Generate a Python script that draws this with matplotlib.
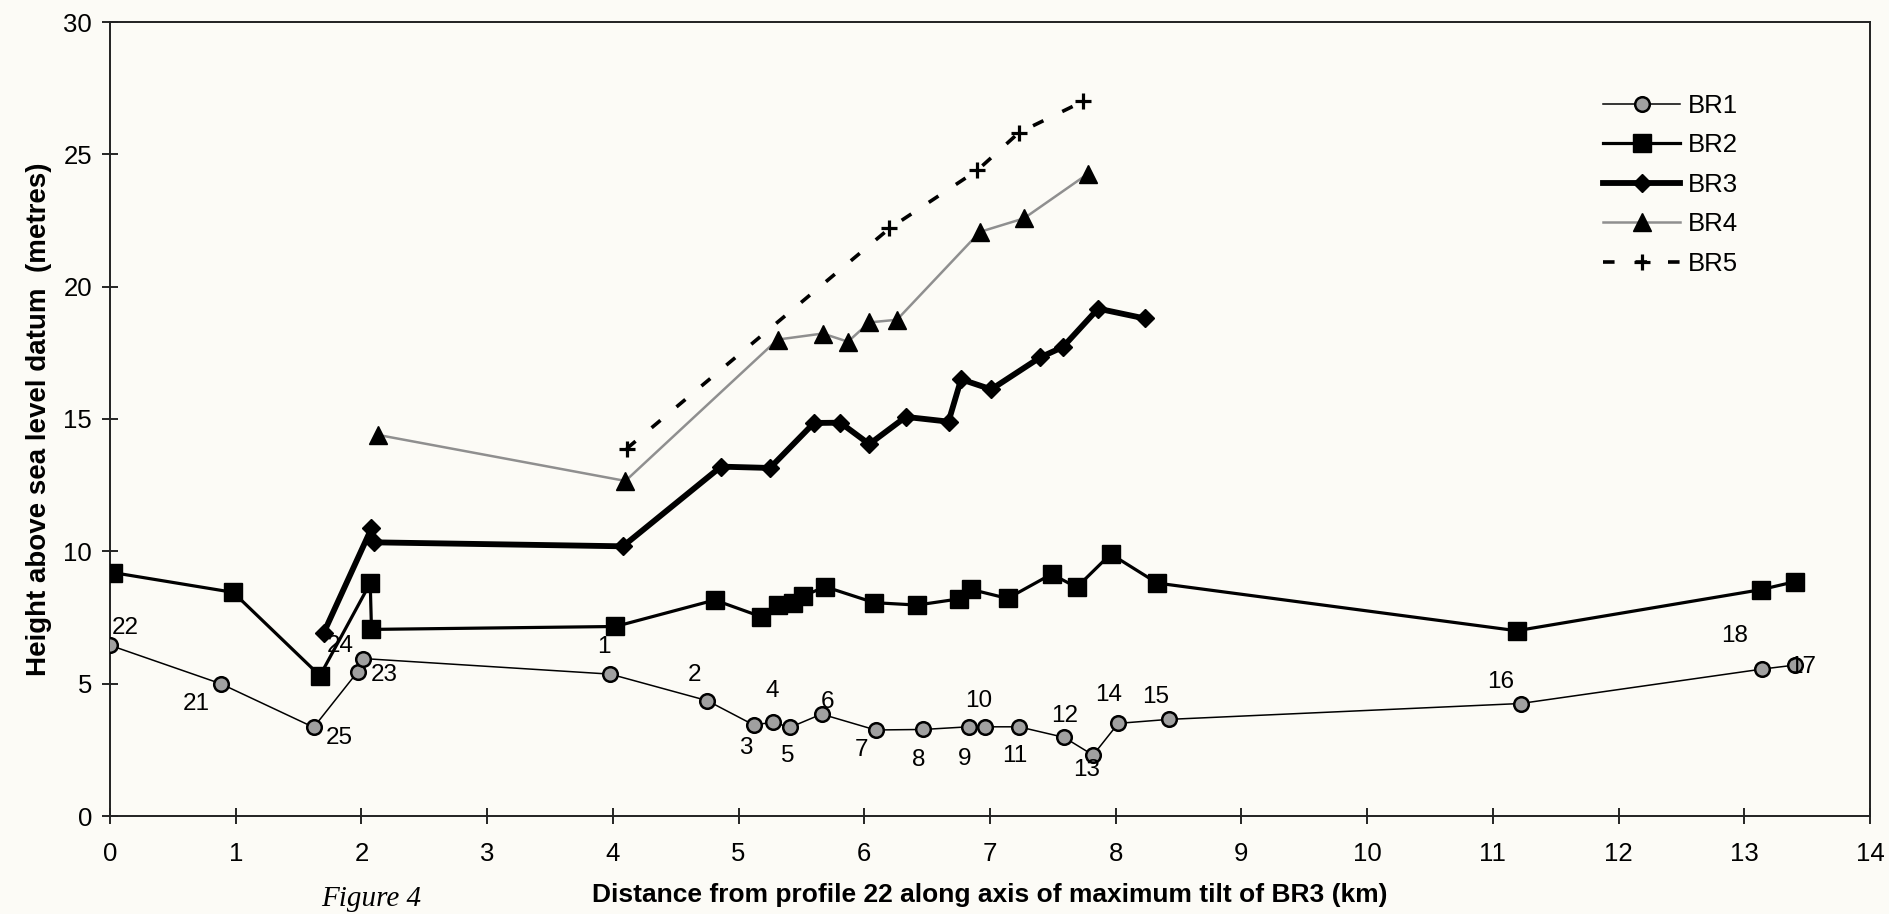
import matplotlib
matplotlib.use('Agg')
import matplotlib.pyplot as plt

plt.rcParams['font.family'] = ['Liberation Sans', 'DejaVu Sans']

# distance along axis (km) and height (m) for each shoreline
br1_x = [0.0, 0.88, 1.62, 1.97, 2.01, 3.98, 4.75, 5.12, 5.27, 5.41, 5.66, 6.09,
         6.47, 6.83, 6.96, 7.23, 7.59, 7.82, 8.02, 8.42, 11.22, 13.14, 13.40]
br1_y = [6.45, 5.0, 3.35, 5.45, 5.95, 5.36, 4.36, 3.44, 3.54, 3.35, 3.85, 3.25,
         3.27, 3.37, 3.37, 3.37, 2.97, 2.30, 3.50, 3.65, 4.25, 5.55, 5.7]
br1_labels = ['22', '21', '25', '23', '24', '1', '2', '3', '4', '5', '6', '7',
              '8', '9', '10', '11', '12', '13', '14', '15', '16', '18', '17']

br2_x = [0.02, 0.98, 1.67, 2.07, 2.08, 4.02, 4.81, 5.18, 5.31, 5.43, 5.51, 5.69,
         6.08, 6.42, 6.75, 6.85, 7.14, 7.49, 7.69, 7.96, 8.33, 11.19, 13.13, 13.40]
br2_y = [9.2, 8.45, 5.3, 8.8, 7.05, 7.16, 8.16, 7.53, 7.97, 8.06, 8.31, 8.66,
         8.06, 7.97, 8.2, 8.56, 8.22, 9.14, 8.64, 9.9, 8.8, 7.0, 8.55, 8.85]

br3_x = [1.70, 2.08, 2.10, 4.08, 4.86, 5.25, 5.60, 5.81, 6.04, 6.33, 6.67, 6.77,
         7.01, 7.40, 7.58, 7.86, 8.23]
br3_y = [6.92, 10.87, 10.34, 10.19, 13.2, 13.15, 14.85, 14.86, 14.05, 15.08, 14.9,
         16.5, 16.12, 17.33, 17.72, 19.17, 18.8]

br4_x = [2.13, 4.10, 5.31, 5.67, 5.87, 6.04, 6.26, 6.92, 7.27, 7.78]
br4_y = [14.4, 12.66, 18.0, 18.23, 17.92, 18.65, 18.75, 22.07, 22.58, 24.27]

br5_x = [4.11, 6.20, 6.90, 7.23, 7.74]
br5_y = [13.88, 22.2, 24.4, 25.82, 27.0]

x_ticks = list(range(0, 15))
y_ticks = [0, 5, 10, 15, 20, 25, 30]

# where each BR1 profile number sits relative to its point (pixels)
label_offsets = {
    '22': (15, 17), '21': (-24, -20), '25': (26, -11), '23': (27, -3),
    '24': (-22, 13), '1': (-6, 27), '2': (-13, 26), '3': (-8, -23),
    '4': (0, 31), '5': (-2, -29), '6': (6, 12), '7': (-14, -20),
    '8': (-5, -31), '9': (-4, -32), '10': (-6, 26), '11': (-4, -29),
    '12': (0, 21), '13': (-6, -15), '14': (-10, 28), '15': (-13, 22),
    '16': (-20, 22), '18': (-27, 33), '17': (8, -2),
}

bg = '#fcfbf6'
fig = plt.figure(figsize=(18.89, 9.14), dpi=100, facecolor=bg)
ax = fig.add_axes([110 / 1889, 1 - 816 / 914, 1760 / 1889, 794 / 914])
ax.set_facecolor(bg)

ax.plot(br4_x, br4_y, color='#8f8f8f', linewidth=1.8, marker='^',
        markersize=12.5, markerfacecolor='black', markeredgecolor='black',
        label='BR4', zorder=3)
ax.plot(br5_x, br5_y, color='black', linewidth=2.6, linestyle=(0, (3.2, 5.8)),
        marker='+', markersize=12, markeredgewidth=2.3, label='BR5', zorder=3)
ax.plot(br3_x, br3_y, color='black', linewidth=4.2, marker='D', markersize=9.5,
        label='BR3', zorder=4)
ax.plot(br2_x, br2_y, color='black', linewidth=2.3, marker='s', markersize=12.5,
        label='BR2', zorder=4)
ax.plot(br1_x, br1_y, color='black', linewidth=1.1, marker='o', markersize=10.5,
        markerfacecolor='#a0a0a0', markeredgecolor='black', markeredgewidth=1.8,
        label='BR1', zorder=5)

for x, y, lab in zip(br1_x, br1_y, br1_labels):
    ax.annotate(lab, (x, y), xytext=label_offsets[lab], textcoords='offset pixels',
                ha='center', va='center', fontsize=17.5, zorder=6)

ax.set_xlim(0, 14)
ax.set_ylim(0, 30)
ax.set_xticks(x_ticks)
ax.set_yticks(y_ticks)
ax.tick_params(axis='both', direction='inout', length=12, width=1.2,
               labelsize=18.5, colors='black')
ax.tick_params(axis='x', pad=13)
ax.tick_params(axis='y', pad=7)
for sp in ax.spines.values():
    sp.set_linewidth(1.4)
    sp.set_color('#222222')

ax.set_xlabel('Distance from profile 22 along axis of maximum tilt of BR3 (km)',
              fontsize=19, fontweight='bold', labelpad=12)
ax.set_ylabel('Height above sea level datum  (metres)', fontsize=20,
              fontweight='bold', labelpad=8)

handles, labels = ax.get_legend_handles_labels()
order = ['BR1', 'BR2', 'BR3', 'BR4', 'BR5']
hmap = dict(zip(labels, handles))
fig.legend([hmap[k] for k in order], order, loc='upper left',
           bbox_to_anchor=(1603 / 1889, 1 - 94 / 914), frameon=False,
           fontsize=18.5, handlelength=3.0, handletextpad=0.3, labelspacing=0.6,
           borderpad=0, borderaxespad=0)

fig.text(371 / 1889, 2 / 914, 'Figure 4', family='Liberation Serif',
         style='italic', fontsize=21, ha='center', va='bottom')

fig.savefig('out.png', dpi=100, facecolor=bg)
